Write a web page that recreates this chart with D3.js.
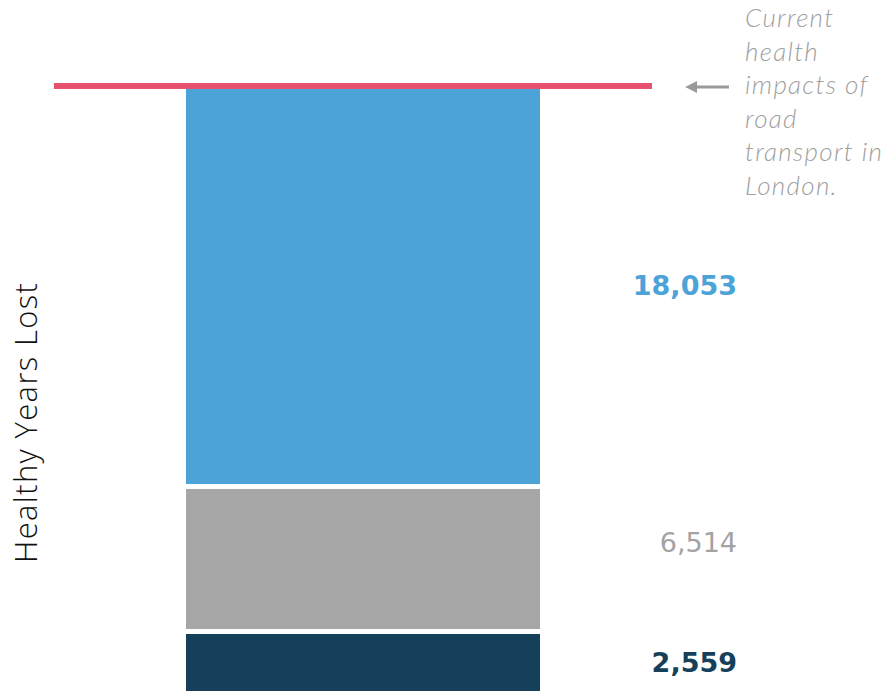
<!DOCTYPE html>
<html>
<head>
<meta charset="utf-8">
<script src="https://cdn.jsdelivr.net/npm/d3@7"></script>
<style>
  body { margin: 0; background: #fff; }
  svg { display: block; }
</style>
</head>
<body>
<svg id="chart" width="894" height="691"></svg>
<script>
// segments bottom to top
const categories = ['Segment 1', 'Segment 2', 'Segment 3'];
const values = [2559, 6514, 18053];
const valueLabels = ['2,559', '6,514', '18,053'];
const currentImpact = 27126;
const noteLines = ['Current', 'health', 'impacts of', 'road', 'transport in', 'London.'];

const colors = ['#163f59', '#a6a6a6', '#4ba3d8'];
const labelColors = ['#163f59', '#a3a3a3', '#4ba3d8'];
const labelShift = [0, -17, 0];

let svg = d3.select('#chart');

let y = d3.scaleLinear()
    .domain([0, currentImpact])
    .range([691, 87]);

let x = d3.scaleBand()
    .domain(['bar'])
    .range([186, 540])
    .padding(0);

// stacked segments
let stack = [];
let acc = 0;
values.forEach((v, i) => {
    stack.push({ cat: categories[i], y0: acc, y1: acc + v, label: valueLabels[i], i: i });
    acc += v;
});

let gap = 5;

svg.selectAll('.seg')
    .data(stack)
    .enter()
    .append('rect')
    .attr('class', 'seg')
    .attr('x', x('bar'))
    .attr('width', x.bandwidth())
    .attr('y', d => y(d.y1))
    .attr('height', d => y(d.y0) - y(d.y1) - (d.i > 0 ? gap : 0))
    .attr('fill', d => colors[d.i]);

svg.selectAll('.val')
    .data(stack)
    .enter()
    .append('text')
    .attr('class', 'val')
    .attr('x', 737)
    .attr('y', d => (y(d.y0) + y(d.y1)) / 2 - (d.i > 0 ? gap / 2 : 0) + labelShift[d.i])
    .attr('dy', '0.36em')
    .attr('text-anchor', 'end')
    .attr('font-family', '"DejaVu Sans", sans-serif')
    .attr('font-size', 27)
    .attr('font-weight', d => d.i === 1 ? 400 : 700)
    .attr('fill', d => labelColors[d.i])
    .text(d => d.label);

// current impact line
svg.append('line')
    .attr('x1', 54)
    .attr('x2', 652)
    .attr('y1', y(currentImpact) - 1)
    .attr('y2', y(currentImpact) - 1)
    .attr('stroke', '#e6516f')
    .attr('stroke-width', 6);

// arrow
svg.append('defs').append('marker')
    .attr('id', 'head')
    .attr('viewBox', '0 0 10 10')
    .attr('refX', 6)
    .attr('refY', 5)
    .attr('markerWidth', 4)
    .attr('markerHeight', 4)
    .attr('orient', 'auto')
    .append('path')
    .attr('d', 'M0,0L10,5L0,10Z')
    .attr('fill', '#9a9a9a');

svg.append('line')
    .attr('x1', 729)
    .attr('x2', 690)
    .attr('y1', y(currentImpact))
    .attr('y2', y(currentImpact))
    .attr('stroke', '#9a9a9a')
    .attr('stroke-width', 3)
    .attr('marker-end', 'url(#head)');

svg.append('text')
    .attr('font-family', 'Lato, sans-serif')
    .attr('font-style', 'italic')
    .attr('font-weight', 300)
    .attr('font-size', 26)
    .attr('letter-spacing', 1.3)
    .attr('fill', '#a0a0a0')
    .selectAll('tspan')
    .data(noteLines)
    .enter()
    .append('tspan')
    .attr('x', 745)
    .attr('y', (d, i) => 27 + i * 33.5)
    .text(d => d);

// y label
svg.append('text')
    .attr('transform', 'translate(37,423) rotate(-90)')
    .attr('text-anchor', 'middle')
    .attr('font-family', '"Open Sans", sans-serif')
    .attr('font-weight', 300)
    .attr('font-size', 31)
    .attr('textLength', 280)
    .attr('lengthAdjust', 'spacing')
    .attr('fill', '#111')
    .text('Healthy Years Lost');
</script>
</body>
</html>
